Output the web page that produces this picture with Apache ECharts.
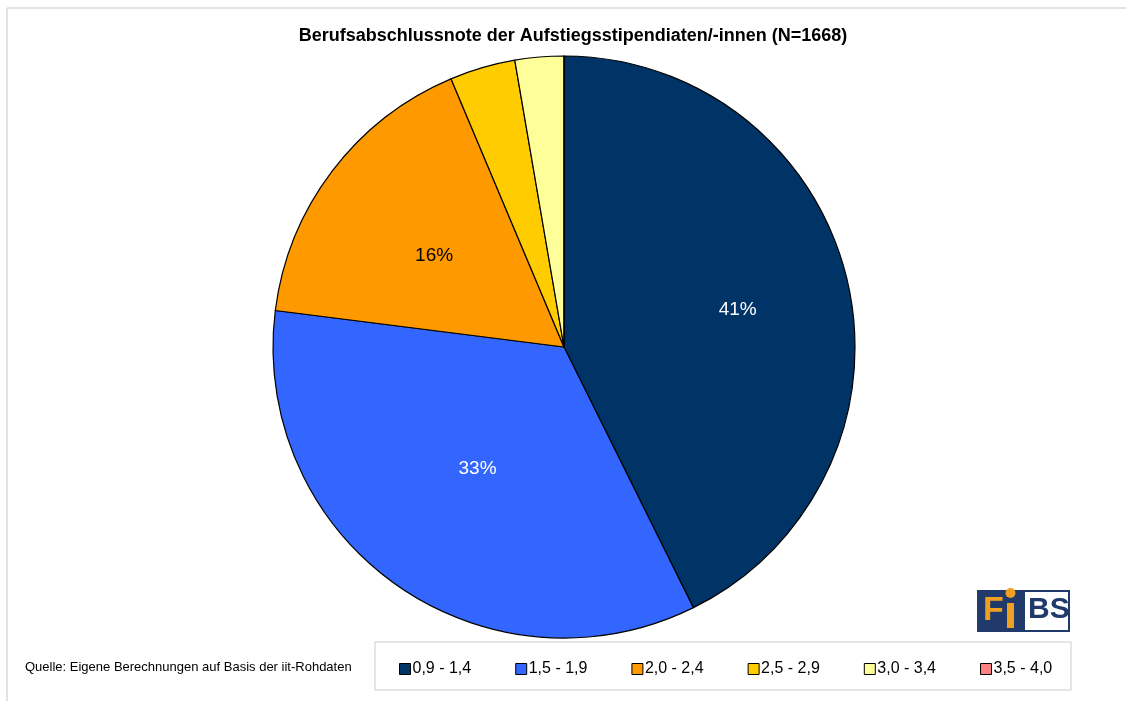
<!DOCTYPE html>
<html><head><meta charset="utf-8">
<script src="https://cdn.jsdelivr.net/npm/echarts@6/dist/echarts.min.js"></script>
<style>html,body{margin:0;padding:0;background:#fff}#c{width:1126px;height:701px}</style>
</head><body><div id="c"></div>
<script>
var categories = ['0,9 - 1,4', '1,5 - 1,9', '2,0 - 2,4', '2,5 - 2,9', '3,0 - 3,4', '3,5 - 4,0'];
var values = [41, 33, 16, 3.5, 2.6, 0];
var labelShown = [true, true, true, false, false, false];
var colors = ['#003366', '#3366FF', '#FF9900', '#FFCC00', '#FFFF99', '#FF8080'];
var labelColors = ['#ffffff', '#ffffff', '#000000', '#000000', '#000000', '#000000'];
var titleText = 'Berufsabschlussnote der Aufstiegsstipendiaten/-innen (N=1668)';
var sourceText = 'Quelle: Eigene Berechnungen auf Basis der iit-Rohdaten';

var chart = echarts.init(document.getElementById('c'));
var R = 291;
// small per-label nudges (style only), mimicking the original label placement
var labelNudge = [[15, 0], [8, -11], [0, 7], [0, 0], [0, 0], [0, 0]];
var mainData = categories.map(function (c, i) {
  return { name: c, value: values[i], itemStyle: { color: colors[i] } };
});
var labelData = categories.map(function (c, i) {
  return {
    name: c, value: values[i],
    itemStyle: { color: 'rgba(0,0,0,0)' },
    label: { show: labelShown[i], color: labelColors[i], offset: labelNudge[i] }
  };
});
var narrow = '"Liberation Sans Narrow", "Liberation Sans", Arial, sans-serif';
chart.setOption({
  animation: false,
  backgroundColor: '#ffffff',
  title: {
    text: titleText, left: 568, top: 22, textAlign: 'center',
    textStyle: { fontFamily: narrow, fontWeight: 'bold', fontSize: 18, color: '#000' }
  },
  legend: {
    data: categories, left: 394, top: 656, itemGap: 44, itemWidth: 11, itemHeight: 11,
    icon: 'rect', selectedMode: false,
    itemStyle: { borderColor: '#000', borderWidth: 1 },
    textStyle: { fontFamily: narrow, fontSize: 16, color: '#000', padding: [0, 0, 0, -3] }
  },
  graphic: [
    { type: 'line', shape: { x1: 7, y1: 8, x2: 1126, y2: 8 }, style: { stroke: '#e2e2e2', lineWidth: 2 } },
    { type: 'line', shape: { x1: 7, y1: 8, x2: 7, y2: 701 }, style: { stroke: '#e2e2e2', lineWidth: 2 } },
    { type: 'rect', shape: { x: 375, y: 642, width: 696, height: 48 }, style: { fill: '#fff', stroke: '#dddddd', lineWidth: 1.5 }, z: -1 },
    { type: 'text', left: 25, top: 661, style: { text: sourceText, font: '13px ' + narrow, fill: '#000' } },
    { type: 'rect', shape: { x: 977, y: 590, width: 47, height: 42 }, style: { fill: '#1f3a6b' } },
    { type: 'rect', shape: { x: 1024, y: 591, width: 45, height: 40 }, style: { fill: '#fff', stroke: '#1f3a6b', lineWidth: 2 } },
    { type: 'text', left: 983, top: 594, style: { text: 'F', font: 'bold 34px "Liberation Sans", Arial', fill: '#f0a020' } },
    { type: 'rect', shape: { x: 1007, y: 603, width: 7, height: 25 }, style: { fill: '#f0a020' } },
    { type: 'circle', shape: { cx: 1010.5, cy: 593, r: 5 }, style: { fill: '#f0a020' } },
    { type: 'text', left: 1028, top: 595, style: { text: 'BS', font: 'bold 30px "Liberation Sans", Arial', fill: '#1f3a6b' } }
  ],
  series: [
    {
      type: 'pie', center: [564, 347], radius: [0, R], startAngle: 90, clockwise: true,
      silent: true, label: { show: false }, labelLine: { show: false },
      itemStyle: { borderColor: '#000', borderWidth: 1.2 },
      data: mainData
    },
    {
      type: 'pie', center: [564, 347], radius: [R * 0.3, R * 0.8], startAngle: 90, clockwise: true,
      silent: true, labelLine: { show: false },
      label: { position: 'inside', formatter: '{c}%', fontFamily: '"Liberation Sans", Arial', fontSize: 19 },
      data: labelData
    }
  ]
});
</script></body></html>
